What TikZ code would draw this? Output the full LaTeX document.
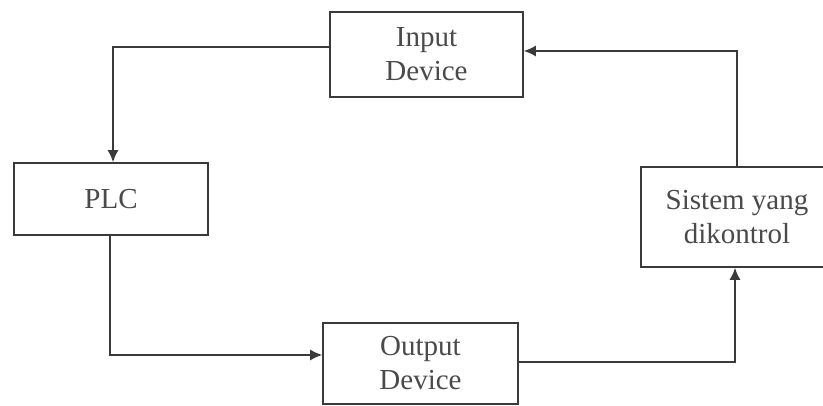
\documentclass[tikz,border=0pt]{standalone}
\usepackage{fontspec}
\setmainfont{Liberation Serif}
\usetikzlibrary{arrows.meta}
\definecolor{ink}{HTML}{3A3A3A}
\definecolor{txt}{HTML}{4A4A4A}
\tikzset{
  blk/.style={draw=ink, line width=0.8pt, rectangle, align=center, text=txt,
    font=\fontsize{14.5}{17}\selectfont, inner sep=0pt},
  arr/.style={draw=ink, line width=0.75pt, -{Latex[length=6pt,width=5.5pt]}}
}
\begin{document}
\begin{tikzpicture}[x=0.5pt,y=-0.5pt]
\useasboundingbox (0,0) rectangle (823,406);
\clip (0,0) rectangle (823,406);
\fill[white] (0,0) rectangle (823,406);
\node[blk, minimum width=96.5pt, minimum height=42.5pt] (inp) at (426.5,54.5) {Input\\Device};
\node[blk, minimum width=97pt, minimum height=36pt] (plc) at (111,199) {PLC};
\node[blk, minimum width=96pt, minimum height=50pt] (sys) at (737,217) {Sistem yang\\dikontrol};
\node[blk, minimum width=97.5pt, minimum height=40.5pt] (out) at (420.5,363.5) {Output\\Device};
\coordinate (c1) at (113,47);
\coordinate (c2) at (110,355);
\coordinate (c3) at (735,362);
\coordinate (c4) at (737,51);
\draw[arr] (c1 -| inp.west) -- (c1) -- (plc.north -| c1);
\draw[arr] (plc.south -| c2) -- (c2) -- (c2 -| out.west);
\draw[arr] (c3 -| out.east) -- (c3) -- (sys.south -| c3);
\draw[arr] (sys.north -| c4) -- (c4) -- (c4 -| inp.east);
\end{tikzpicture}
\end{document}
